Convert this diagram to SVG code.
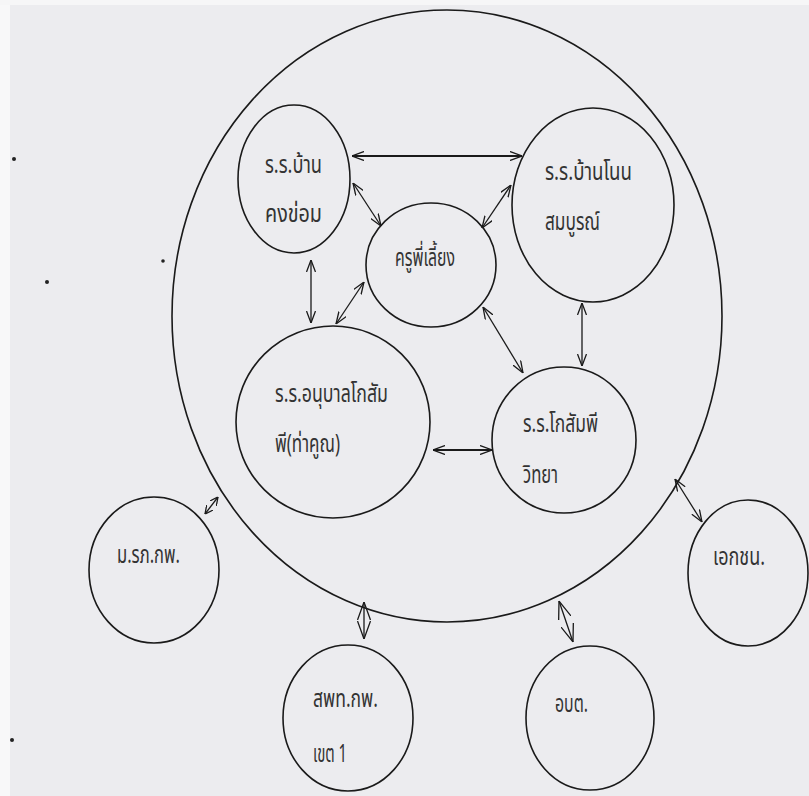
<svg xmlns="http://www.w3.org/2000/svg" width="809" height="796" viewBox="0 0 809 796">
<defs>
<marker id="ah" viewBox="0 0 12 10" refX="12" refY="5" markerWidth="12" markerHeight="10" markerUnits="userSpaceOnUse" orient="auto-start-reverse">
<path d="M0,0.5 L12,5 L0,9.5" fill="none" stroke="#1a1a1a" stroke-width="1.3"/>
</marker>
<marker id="al" viewBox="0 0 18 14" refX="18" refY="7" markerWidth="18" markerHeight="14" markerUnits="userSpaceOnUse" orient="auto-start-reverse">
<path d="M0,0.5 L18,7 L0,13.5" fill="none" stroke="#1a1a1a" stroke-width="1.3"/>
</marker>
<marker id="as" viewBox="0 0 8 8" refX="8" refY="4" markerWidth="8" markerHeight="8" markerUnits="userSpaceOnUse" orient="auto-start-reverse">
<path d="M0,0 L8,4 L0,8" fill="none" stroke="#1a1a1a" stroke-width="1.3"/>
</marker>
</defs>
<style>
.c{fill:none;stroke:#1a1a1a;stroke-width:1.6}
.t{font-family:"Noto Sans Thai","Noto Sans","DejaVu Sans",sans-serif;font-size:25px;fill:#333}
.a{fill:none;stroke:#1a1a1a;stroke-width:1.3;marker-start:url(#ah);marker-end:url(#ah)}
.ab{stroke-width:2.2}
.l{marker-start:url(#al);marker-end:url(#al)}
.s{marker-start:url(#as);marker-end:url(#as)}
</style>
<rect width="809" height="796" fill="#ececef"/>
<rect width="10" height="796" fill="#f8f8f9"/>
<rect width="809" height="5" fill="#f6f6f7"/>
<g id="specks" fill="#222">
<circle cx="14" cy="159" r="2"/>
<circle cx="47" cy="282" r="2"/>
<circle cx="163" cy="261" r="1.8"/>
<circle cx="12" cy="740" r="2"/>
</g>
<g id="network">
<ellipse class="c" cx="447" cy="316" rx="275" ry="306"/>
</g>
<g id="n-bankhongkhom">
<ellipse class="c" cx="294" cy="179" rx="56" ry="74"/>
<text class="t" x="265" y="173" textLength="57" lengthAdjust="spacingAndGlyphs">ร.ร.บ้าน</text>
<text class="t" x="265" y="222" textLength="57" lengthAdjust="spacingAndGlyphs">คงข่อม</text>
</g>
<g id="n-khrupiliang">
<ellipse class="c" cx="431" cy="265" rx="65" ry="62"/>
<text class="t" x="395" y="266" textLength="60" lengthAdjust="spacingAndGlyphs">ครูพี่เลี้ยง</text>
</g>
<g id="n-bannonsombun">
<ellipse class="c" cx="593" cy="205" rx="81" ry="97"/>
<text class="t" x="545" y="180" textLength="87" lengthAdjust="spacingAndGlyphs">ร.ร.บ้านโนน</text>
<text class="t" x="545" y="230" textLength="55" lengthAdjust="spacingAndGlyphs">สมบูรณ์</text>
</g>
<g id="n-anuban">
<ellipse class="c" cx="333" cy="422" rx="97" ry="96"/>
<text class="t" x="275" y="402" textLength="113" lengthAdjust="spacingAndGlyphs">ร.ร.อนุบาลโกสัม</text>
<text class="t" x="275" y="452" textLength="65" lengthAdjust="spacingAndGlyphs">พี(ท่าคูณ)</text>
</g>
<g id="n-kosamphiwittaya">
<ellipse class="c" cx="564" cy="440" rx="72" ry="73"/>
<text class="t" x="523" y="432" textLength="75" lengthAdjust="spacingAndGlyphs">ร.ร.โกสัมพี</text>
<text class="t" x="523" y="483" textLength="35" lengthAdjust="spacingAndGlyphs">วิทยา</text>
</g>
<g id="n-mrp">
<ellipse class="c" cx="154" cy="570" rx="65" ry="73"/>
<text class="t" x="117" y="563" textLength="63" lengthAdjust="spacingAndGlyphs">ม.รภ.กพ.</text>
</g>
<g id="n-spt">
<ellipse class="c" cx="348" cy="718" rx="65" ry="73"/>
<text class="t" x="313" y="707" textLength="65" lengthAdjust="spacingAndGlyphs">สพท.กพ.</text>
<text class="t" x="313" y="762" textLength="34" lengthAdjust="spacingAndGlyphs">เขต 1</text>
</g>
<g id="n-obt">
<ellipse class="c" cx="590" cy="718" rx="64" ry="72"/>
<text class="t" x="555" y="712" textLength="33" lengthAdjust="spacingAndGlyphs">อบต.</text>
</g>
<g id="n-private">
<ellipse class="c" cx="748" cy="573" rx="60" ry="73"/>
<text class="t" x="713" y="565" textLength="52" lengthAdjust="spacingAndGlyphs">เอกชน.</text>
</g>
<g id="connectors">
<line class="a ab" x1="352" y1="156" x2="522" y2="156"/>
<line class="a" x1="353" y1="183" x2="381" y2="226"/>
<line class="a" x1="511" y1="185" x2="482" y2="228"/>
<line class="a" x1="311" y1="260" x2="311" y2="323"/>
<line class="a" x1="364" y1="282" x2="336" y2="324"/>
<line class="a" x1="483" y1="307" x2="523" y2="373"/>
<line class="a" x1="582" y1="303" x2="582" y2="366"/>
<line class="a ab" x1="433" y1="450" x2="492" y2="450"/>
<line class="a" x1="675" y1="479" x2="702" y2="522"/>
<line class="a l" x1="364" y1="602" x2="364" y2="639"/>
<line class="a l" x1="559" y1="601" x2="573" y2="642"/>
<line class="a s" x1="218" y1="497" x2="205" y2="514"/>
</g>
</svg>
